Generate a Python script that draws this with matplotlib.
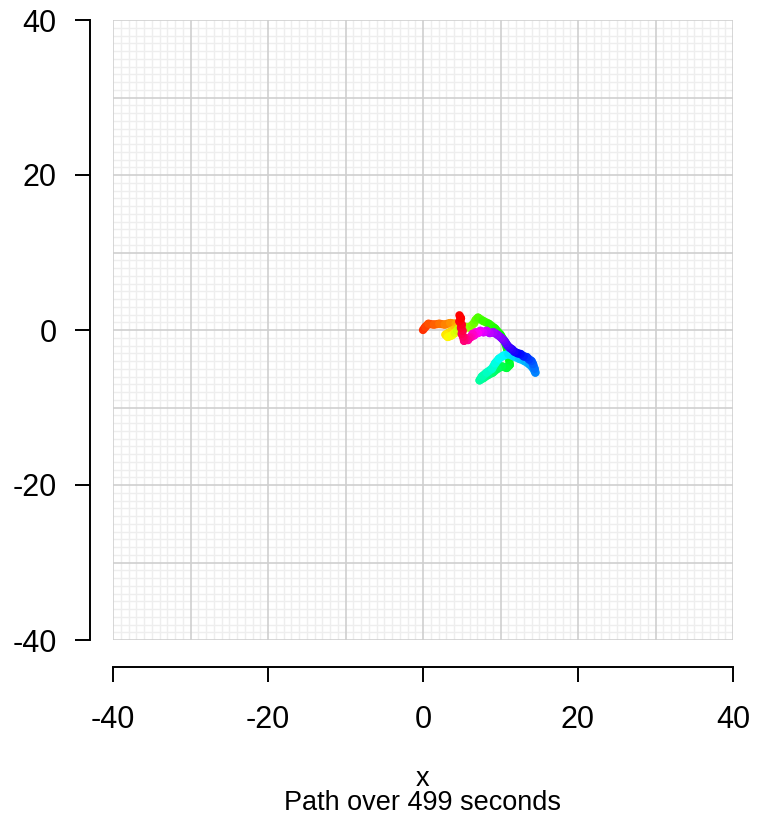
import numpy as np
import matplotlib
matplotlib.use("Agg")
import matplotlib.pyplot as plt
from matplotlib.collections import LineCollection
from matplotlib.colors import hsv_to_rgb

plt.rcParams['font.family'] = ['Liberation Sans', 'DejaVu Sans']
plt.rcParams['axes.unicode_minus'] = False

# walk positions, in time order
path_x = [0.0, 0.3, 0.7, 1.4, 2.1, 2.8, 3.5, 4.2,
          4.4, 3.9, 3.4, 2.9, 3.2, 3.7, 4.1, 4.4,
          4.7, 5.2, 5.6, 6.0, 6.3, 6.6, 6.8,
          7.1, 7.7, 8.5, 9.3, 10.0, 10.6, 11.0, 11.2,
          10.8, 10.2, 9.6, 9.0, 8.4, 7.8, 7.3,
          7.6, 8.2, 8.9, 9.3, 9.8, 10.4,
          11.0, 11.7, 12.4, 13.1, 13.7, 14.2, 14.5,
          14.4, 14.2, 14.0, 13.7, 13.4, 13.0, 12.6, 12.2, 11.8, 11.5, 11.2,
          10.9, 10.7, 10.5, 10.3,
          10.1, 9.6, 9.1, 8.6, 8.2, 7.8, 7.4, 7.1, 6.8, 6.6, 6.4, 6.2, 6.0,
          5.8, 5.5, 5.3, 5.2, 5.0, 5.1, 4.9, 5.0, 4.7, 4.9, 4.7]
path_y = [0.0, 0.4, 0.8, 0.7, 0.8, 0.7, 0.9, 0.8,
          0.4, 0.0, -0.3, -0.6, -0.9, -0.7, -0.4, -0.1,
          0.3, 0.1, 0.4, 0.3, 0.6, 0.9, 1.3,
          1.6, 1.2, 0.8, 0.2, -0.6, -1.6, -3.0, -4.5,
          -4.9, -4.7, -5.0, -5.5, -5.8, -6.2, -6.5,
          -6.0, -5.5, -5.0, -4.3, -3.7, -3.3,
          -3.1, -3.4, -3.7, -4.0, -4.4, -4.9, -5.5,
          -5.0, -4.4, -4.0, -3.8, -3.5, -3.4, -3.1, -3.0, -2.8, -2.5, -2.3,
          -2.0, -1.7, -1.4, -1.2,
          -1.0, -0.6, -0.3, -0.4, -0.1, -0.3, -0.1, -0.4, -0.3, -0.7, -0.5, -0.9, -1.0,
          -1.3, -1.1, -1.4, -0.9, -0.5, -0.1, 0.3, 0.7, 1.1, 1.5, 1.9]
duration = 499

fig = plt.figure(figsize=(7.57, 8.27), dpi=100)
ax = fig.add_axes([113 / 757, 187 / 827, 620 / 757, 620 / 827])
ax.set_xlim(-40, 40)
ax.set_ylim(-40, 40)

# fine and coarse grid
fine = [v for v in range(-40, 41) if v % 10 != 0]
coarse = list(range(-40, 41, 10))
ax.vlines(fine, -40, 40, color='#eeeeee', lw=1.0, zorder=0)
ax.hlines(fine, -40, 40, color='#eeeeee', lw=1.0, zorder=0)
ax.vlines(coarse, -40, 40, color='#cfcfcf', lw=1.2, zorder=1)
ax.hlines(coarse, -40, 40, color='#cfcfcf', lw=1.2, zorder=1)

# path coloured by time (rainbow hue)
pts = np.column_stack([path_x, path_y])
segs = np.stack([pts[:-1], pts[1:]], axis=1)
n = len(segs)
hues = 0.03 + 0.97 * np.arange(n) / (n - 1)
cols = hsv_to_rgb(np.column_stack([hues, np.ones(n), np.ones(n)]))
lc = LineCollection(segs, colors=cols, linewidths=6.0, capstyle='round',
                    joinstyle='round', zorder=3)
ax.add_collection(lc)

for s in ['top', 'right']:
    ax.spines[s].set_visible(False)
ax.spines['left'].set_position(('outward', 16.5))
ax.spines['bottom'].set_position(('outward', 19.5))
for s in ['left', 'bottom']:
    ax.spines[s].set_bounds(-40, 40)
    ax.spines[s].set_linewidth(1.4)
ax.set_xticks(range(-40, 41, 20))
ax.set_yticks(range(-40, 41, 20))
ax.tick_params(length=11, width=1.4, labelsize=22, color='black')
ax.tick_params(axis='y', pad=13)
ax.tick_params(axis='x', pad=16)
ax.set_xticklabels([str(v) for v in range(-40, 41, 20)])
ax.set_yticklabels([str(v) for v in range(-40, 41, 20)])

fig.text(423 / 757, 17 / 827, f'x\nPath over {duration} seconds', ha='center',
         va='baseline', multialignment='center', linespacing=0.88,
         fontsize=19.5)

fig.savefig('out.png', dpi=100)
